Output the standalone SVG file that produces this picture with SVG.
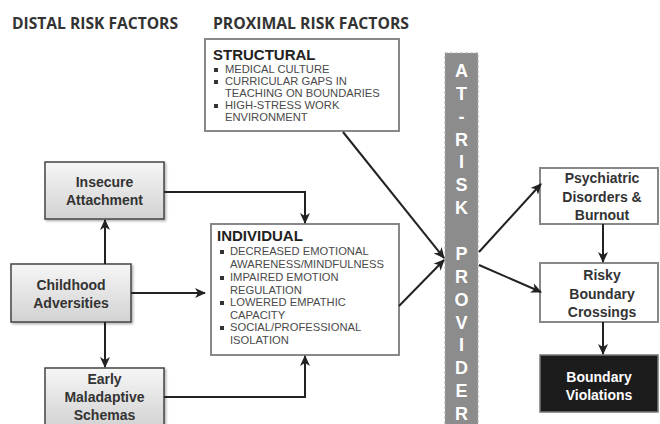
<svg xmlns="http://www.w3.org/2000/svg" width="660" height="424" viewBox="0 0 660 424">
<defs>
<linearGradient id="gbox" x1="0" y1="0" x2="0" y2="1">
<stop offset="0" stop-color="#f6f6f6"/>
<stop offset="1" stop-color="#d2d2d2"/>
</linearGradient>
<marker id="ah" markerUnits="userSpaceOnUse" markerWidth="11" markerHeight="10" refX="10" refY="5" orient="auto">
<path d="M0,0 L11,5 L0,10 L3,5 z" fill="#222"/>
</marker>
<filter id="sh" x="-10%" y="-10%" width="130%" height="130%">
<feDropShadow dx="1.5" dy="1.5" stdDeviation="1" flood-color="#000" flood-opacity="0.3"/>
</filter>
</defs>
<style>
.hdr{font-family:"Open Sans","Liberation Sans",sans-serif;font-weight:700;font-size:16px;fill:#333}
.gbox{fill:url(#gbox);stroke:#444;stroke-width:1.5}
.wbox{fill:#fff;stroke:#888;stroke-width:2}
.lbl{font-family:"Liberation Sans",Arial,sans-serif;font-weight:700;font-size:14px;fill:#333;text-anchor:middle}
.ttl{font-family:"Liberation Sans",Arial,sans-serif;font-weight:700;font-size:15px;fill:#222}
.bul{font-family:"Liberation Sans",Arial,sans-serif;font-size:11.2px;fill:#4a4a4a}
.sq{fill:#333}
.bar{font-family:"Liberation Sans",Arial,sans-serif;font-weight:700;font-size:18px;fill:#fff;text-anchor:middle}
.con{fill:none;stroke:#222;stroke-width:2;marker-end:url(#ah)}
</style>
<rect width="660" height="424" fill="#fff"/>
<text class="hdr" x="12" y="29" textLength="166" lengthAdjust="spacingAndGlyphs">DISTAL RISK FACTORS</text>
<text class="hdr" x="213" y="29" textLength="196" lengthAdjust="spacingAndGlyphs">PROXIMAL RISK FACTORS</text>

<g id="structural">
<rect class="wbox" x="205" y="39" width="194" height="92"/>
<text class="ttl" x="213" y="60">STRUCTURAL</text>
<rect class="sq" x="214" y="68" width="4" height="4"/>
<text class="bul" x="225" y="73">MEDICAL CULTURE</text>
<rect class="sq" x="214" y="80" width="4" height="4"/>
<text class="bul" x="225" y="85">CURRICULAR GAPS IN</text>
<text class="bul" x="225" y="97">TEACHING ON BOUNDARIES</text>
<rect class="sq" x="214" y="104" width="4" height="4"/>
<text class="bul" x="225" y="109">HIGH-STRESS WORK</text>
<text class="bul" x="225" y="121">ENVIRONMENT</text>
</g>

<g id="individual">
<rect class="wbox" x="211" y="224" width="188" height="131"/>
<text class="ttl" x="217" y="241">INDIVIDUAL</text>
<rect class="sq" x="220" y="250" width="4" height="4"/>
<text class="bul" x="230" y="255">DECREASED EMOTIONAL</text>
<text class="bul" x="230" y="268">AWARENESS/MINDFULNESS</text>
<rect class="sq" x="220" y="276" width="4" height="4"/>
<text class="bul" x="230" y="281">IMPAIRED EMOTION</text>
<text class="bul" x="230" y="294">REGULATION</text>
<rect class="sq" x="220" y="301" width="4" height="4"/>
<text class="bul" x="230" y="306">LOWERED EMPATHIC</text>
<text class="bul" x="230" y="319">CAPACITY</text>
<rect class="sq" x="220" y="326" width="4" height="4"/>
<text class="bul" x="230" y="331">SOCIAL/PROFESSIONAL</text>
<text class="bul" x="230" y="344">ISOLATION</text>
</g>

<g id="insecure">
<rect class="gbox" x="45" y="162" width="119" height="57" filter="url(#sh)"/>
<text class="lbl" x="104.5" y="187">Insecure</text>
<text class="lbl" x="104.5" y="205">Attachment</text>
</g>

<g id="childhood">
<rect class="gbox" x="11" y="264" width="120" height="58" filter="url(#sh)"/>
<text class="lbl" x="71" y="290">Childhood</text>
<text class="lbl" x="71" y="308">Adversities</text>
</g>

<g id="early">
<rect class="gbox" x="45" y="368" width="119" height="60" filter="url(#sh)"/>
<text class="lbl" x="104.5" y="384">Early</text>
<text class="lbl" x="104.5" y="402">Maladaptive</text>
<text class="lbl" x="104.5" y="420">Schemas</text>
</g>

<g id="atrisk">
<rect x="445" y="53" width="33" height="375" fill="#8c8c8c" stroke="#aaa" stroke-width="1" stroke-dasharray="3,2"/>
<text class="bar" x="461.5" y="77">A</text>
<text class="bar" x="461.5" y="100">T</text>
<text class="bar" x="461.5" y="123">-</text>
<text class="bar" x="461.5" y="146">R</text>
<text class="bar" x="461.5" y="168">I</text>
<text class="bar" x="461.5" y="191">S</text>
<text class="bar" x="461.5" y="214">K</text>
<text class="bar" x="461.5" y="260">P</text>
<text class="bar" x="461.5" y="283">R</text>
<text class="bar" x="461.5" y="306">O</text>
<text class="bar" x="461.5" y="329">V</text>
<text class="bar" x="461.5" y="351">I</text>
<text class="bar" x="461.5" y="374">D</text>
<text class="bar" x="461.5" y="397">E</text>
<text class="bar" x="461.5" y="420">R</text>
</g>

<g id="psychiatric">
<rect class="wbox" x="540" y="168" width="118" height="56"/>
<text class="lbl" x="602" y="183">Psychiatric</text>
<text class="lbl" x="602" y="202">Disorders &amp;</text>
<text class="lbl" x="602" y="220">Burnout</text>
</g>

<g id="risky">
<rect class="wbox" x="540" y="263" width="118" height="59"/>
<text class="lbl" x="602" y="280">Risky</text>
<text class="lbl" x="602" y="299">Boundary</text>
<text class="lbl" x="602" y="317">Crossings</text>
</g>

<g id="violations">
<rect x="540" y="355" width="118" height="57" fill="#1c1c1c" stroke="#777" stroke-width="1.5"/>
<text class="lbl" x="599" y="382" style="fill:#fff">Boundary</text>
<text class="lbl" x="599" y="400" style="fill:#fff">Violations</text>
</g>

<g id="connectors">
<path class="con" d="M164,192 H305 V223"/>
<path class="con" d="M131,293 H205"/>
<path class="con" d="M105,264 V220"/>
<path class="con" d="M105,322 V367"/>
<path class="con" d="M164,397 H305 V356"/>
<path class="con" d="M343,132 L444,258"/>
<path class="con" d="M399,306 L444,260"/>
<path class="con" d="M479,252 L541,184"/>
<path class="con" d="M479,265 L541,292"/>
<path class="con" d="M603,224 V262"/>
<path class="con" d="M603,322 V354"/>
</g>
</svg>
